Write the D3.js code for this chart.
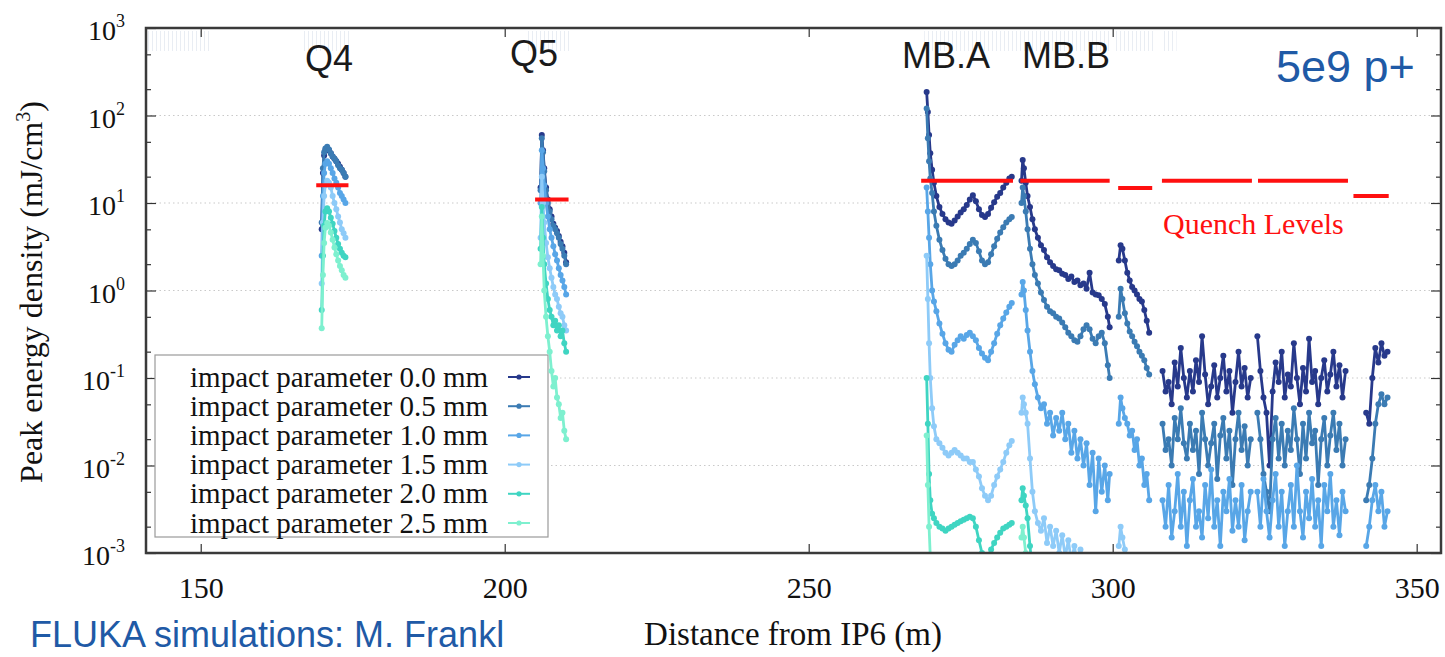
<!DOCTYPE html>
<html>
<head>
<meta charset="utf-8">
<script src="https://cdn.jsdelivr.net/npm/d3@7"></script>
<style>
  body { margin: 0; background: #fff; }
  svg { display: block; }
</style>
</head>
<body>
<svg id="chart" width="1445" height="657"></svg>
<script>
// ---- data (peak energy density in mJ/cm3 vs distance from IP6 in m) ----
const seriesLabels = [
  "impact parameter 0.0 mm", "impact parameter 0.5 mm", "impact parameter 1.0 mm",
  "impact parameter 1.5 mm", "impact parameter 2.0 mm", "impact parameter 2.5 mm"
];
const xTickValues = [150, 200, 250, 300, 350];
const yDecades = [-3, -2, -1, 0, 1, 2, 3];

// Q4
const q4X = [169.9, 170.1, 170.3, 170.5, 170.8, 171.1, 171.4, 171.7, 172.0, 172.3, 172.6, 172.9, 173.2, 173.5, 173.8];
const q4Y = [
  [5, 22, 35, 40, 41, 40, 37, 34, 32, 30, 28, 26, 24, 22, 20],
  [6, 25, 38, 42, 44, 41, 37, 34, 32, 30, 27, 25, 24, 22, 20],
  [2.5, 12, 22, 28, 30, 28, 25, 22, 19, 17, 15, 13, 12, 11, 10],
  [1.2, 6, 12, 16, 18, 17, 15, 12, 10, 8.5, 7, 6, 5, 4.5, 4],
  [0.6, 2.5, 5.5, 8, 8.7, 8, 6.8, 5.8, 4.8, 4, 3.4, 3, 2.7, 2.5, 2.4],
  [0.37, 1.5, 3.5, 5.2, 5.9, 5.5, 4.6, 3.8, 3.1, 2.6, 2.2, 1.9, 1.7, 1.5, 1.4]
];

// Q5
const q5X = [205.9, 206.1, 206.3, 206.5, 206.8, 207.1, 207.4, 207.7, 208.0, 208.3, 208.6, 208.9, 209.2, 209.5, 209.8, 210.1];
const q5Y = [
  [15, 60, 40, 25, 15, 11, 8.5, 7, 5.8, 5.2, 4.8, 4.2, 3.6, 3.2, 2.7, 2.1],
  [14, 55, 38, 23, 14, 10, 8, 6.5, 5.5, 5.0, 4.5, 4.0, 3.4, 3.0, 2.5, 2.0],
  [10, 40, 25, 16, 10, 7, 5, 4, 3.2, 2.6, 2.2, 1.8, 1.5, 1.3, 1.1, 0.9],
  [4, 20, 10, 6, 3.5, 2.4, 1.8, 1.4, 1.1, 0.9, 0.8, 0.65, 0.55, 0.5, 0.4, 0.35],
  [3, 9, 4, 2, 1.2, 0.8, 0.6, 0.5, 0.4, 0.45, 0.35, 0.4, 0.3, 0.35, 0.25, 0.2],
  [2, 7, 2.5, 1, 0.5, 0.3, 0.2, 0.12, 0.08, 0.1, 0.06, 0.05, 0.035, 0.04, 0.025, 0.02]
];

// MB.A
const mbaX = [269.4, 269.6, 269.8, 270.0, 270.3, 270.6, 271.0, 271.5, 272.0, 272.5, 273.0, 273.5, 274.0, 274.5, 275.0, 275.5,
  276.0, 276.5, 277.0, 277.5, 278.0, 278.5, 279.0, 279.5, 280.0, 280.5, 281.0, 281.5, 282.0, 282.5, 283.0, 283.4];
const mbaY = [
  [186, 110, 60, 37, 24, 17, 12, 9, 7.5, 6.5, 6.0, 5.8, 6.3, 7.0, 7.8, 8.5, 9.5, 11, 12.3, 10.5, 8.5, 7.3, 6.9, 7.5, 8.8, 10.2, 11.8, 13, 15, 17, 19, 20],
  [120, 55, 30, 19, 13, 8, 5.5, 3.8, 2.9, 2.3, 2.0, 1.9, 2.0, 2.2, 2.5, 2.7, 3.0, 3.4, 3.8, 3.5, 2.8, 2.2, 2.0, 2.1, 2.6, 3.2, 3.9, 4.6, 5.3, 6.0, 6.5, 6.9],
  [15, 8, 4, 2, 1.0, 0.75, 0.58, 0.42, 0.32, 0.25, 0.21, 0.2, 0.24, 0.27, 0.3, 0.28, 0.31, 0.33, 0.3, 0.27, 0.22, 0.19, 0.17, 0.16, 0.2, 0.25, 0.32, 0.4, 0.48, 0.56, 0.65, 0.72],
  [2.5, 0.8, 0.25, 0.1, 0.045, 0.028, 0.02, 0.018, 0.016, 0.014, 0.013, 0.014, 0.015, 0.014, 0.013, 0.012, 0.012, 0.011, 0.011, 0.009, 0.0075, 0.0055, 0.0045, 0.004, 0.0045, 0.006, 0.0075, 0.009, 0.011, 0.014, 0.017, 0.019],
  [0.1, 0.03, 0.008, 0.004, 0.0028, 0.0025, 0.0022, 0.002, 0.0019, 0.0018, 0.0019, 0.002, 0.0021, 0.0022, 0.0023, 0.0024, 0.0025, 0.0026, 0.0025, 0.002, 0.0014, 0.001, 0.0008, 0.0009, 0.0011, 0.0013, 0.0015, 0.0017, 0.0019, 0.002, 0.0021, 0.0022],
  [0.022, 0.006, 0.002, 0.0009, 0.0005]
];

// MB.B
const mbbX = [285.0, 285.2, 285.4, 285.7, 286.0, 286.4, 286.8, 287.2, 287.7, 288.2, 288.7, 289.2, 289.7, 290.2, 290.7, 291.2,
  291.7, 292.2, 292.7, 293.2, 293.7, 294.2, 294.7, 295.2, 295.7, 296.2, 296.7, 297.2, 297.7, 298.2, 298.7, 299.2, 299.5];
const mbbY = [
  [18, 31, 25, 17, 12, 9, 6.5, 5, 4, 3.3, 2.9, 2.4, 2.1, 1.9, 1.75, 1.7, 1.55, 1.5, 1.35, 1.45, 1.25, 1.3, 1.15, 1.2, 1.05, 1.6, 0.95, 0.9, 0.88, 0.8, 0.7, 0.5, 0.38],
  [10, 15, 12, 8, 5, 3, 2, 1.5, 1.2, 0.95, 0.78, 0.65, 0.58, 0.55, 0.5, 0.48, 0.43, 0.38, 0.33, 0.3, 0.27, 0.26, 0.3, 0.36, 0.4, 0.36, 0.28, 0.25, 0.3, 0.33, 0.25, 0.14, 0.1],
  [0.9, 1.25, 1.0, 0.6, 0.35, 0.2, 0.12, 0.085, 0.06, 0.045, 0.05, 0.03, 0.04, 0.022, 0.035, 0.025, 0.04, 0.02, 0.03, 0.014, 0.025, 0.012, 0.02, 0.01, 0.018, 0.006, 0.014, 0.003, 0.012, 0.005, 0.01, 0.004, 0.008],
  [0.04, 0.06, 0.05, 0.04, 0.03, 0.012, 0.005, 0.003, 0.0022, 0.0018, 0.0025, 0.0013, 0.002, 0.0012, 0.0018, 0.001, 0.0016, 0.0009, 0.0014, 0.0008, 0.0012, 0.0007, 0.0011, 0.0006],
  [0.004, 0.0055, 0.0045, 0.0035, 0.0025, 0.0012, 0.0006],
  [0.0015, 0.002, 0.0015, 0.001, 0.0007]
];

// short element after MB.B
const shortX = [301.0, 301.3, 301.6, 302.0, 302.4, 302.8, 303.2, 303.6, 304.0, 304.4, 304.8, 305.2, 305.6, 306.0];
const shortY = [
  [2.2, 3.3, 3.0, 2.2, 1.6, 1.3, 1.1, 1.0, 0.9, 0.8, 0.75, 0.6, 0.45, 0.33],
  [0.5, 1.05, 0.8, 0.55, 0.42, 0.34, 0.3, 0.26, 0.23, 0.2, 0.18, 0.16, 0.13, 0.11],
  [0.03, 0.06, 0.045, 0.035, 0.03, 0.022, 0.025, 0.015, 0.02, 0.01, 0.012, 0.006, 0.008, 0.004],
  [0.0012, 0.002, 0.0015, 0.0011, 0.0008],
  [],
  []
];

// long elements
const longAX = [308.2, 308.7, 309.2, 309.7, 310.2, 310.7, 311.2, 311.7, 312.2, 312.7, 313.2, 313.7, 314.2, 314.7, 315.2,
  315.7, 316.2, 316.7, 317.2, 317.7, 318.2, 318.7, 319.2, 319.7, 320.2, 320.7, 321.2, 321.7, 322.2, 322.7];
const longAY = [
  [0.12, 0.07, 0.09, 0.05, 0.15, 0.08, 0.22, 0.1, 0.06, 0.12, 0.07, 0.16, 0.09, 0.3, 0.11, 0.05, 0.08, 0.14, 0.06, 0.1, 0.18, 0.07, 0.12, 0.04, 0.09, 0.2, 0.08, 0.13, 0.06, 0.1],
  [0.03, 0.015, 0.02, 0.01, 0.035, 0.02, 0.045, 0.018, 0.012, 0.03, 0.015, 0.025, 0.008, 0.04, 0.02, 0.01, 0.018, 0.03, 0.007, 0.022, 0.035, 0.012, 0.025, 0.006, 0.02, 0.04, 0.015, 0.028, 0.01, 0.02],
  [0.004, 0.002, 0.006, 0.0015, 0.003, 0.008, 0.002, 0.005, 0.0012, 0.004, 0.007, 0.002, 0.003, 0.0015, 0.006, 0.0025, 0.009, 0.002, 0.004, 0.0012, 0.005, 0.003, 0.007, 0.0018, 0.004, 0.002, 0.006, 0.0014, 0.003, 0.005],
  [], [], []
];
const longBX = [323.8, 324.3, 324.8, 325.3, 325.8, 326.3, 326.8, 327.3, 327.8, 328.3, 328.8, 329.3, 329.8, 330.3, 330.8,
  331.3, 331.8, 332.3, 332.8, 333.3, 333.8, 334.3, 334.8, 335.3, 335.8, 336.3, 336.8, 337.3, 337.8, 338.3];
const longBY = [
  [0.3, 0.12, 0.06, 0.04, 0.01, 0.07, 0.15, 0.09, 0.2, 0.06, 0.11, 0.08, 0.25, 0.1, 0.05, 0.13, 0.07, 0.28, 0.09, 0.12, 0.05, 0.1, 0.16, 0.07, 0.11, 0.2, 0.08, 0.14, 0.06, 0.12],
  [0.04, 0.02, 0.008, 0.005, 0.003, 0.02, 0.035, 0.012, 0.03, 0.01, 0.025, 0.015, 0.045, 0.02, 0.008, 0.03, 0.012, 0.04, 0.018, 0.025, 0.006, 0.02, 0.035, 0.01, 0.022, 0.04, 0.015, 0.03, 0.01, 0.02],
  [0.005, 0.002, 0.007, 0.003, 0.0015, 0.004, 0.008, 0.002, 0.005, 0.0012, 0.003, 0.006, 0.002, 0.01, 0.003, 0.0015, 0.005, 0.0025, 0.007, 0.002, 0.004, 0.0012, 0.006, 0.003, 0.008, 0.002, 0.004, 0.0016, 0.005, 0.003],
  [], [], []
];
const lastX = [341.7, 342.2, 342.7, 343.2, 343.7, 344.2, 344.7, 345.2];
const lastY = [
  [0.04, 0.03, 0.1, 0.22, 0.15, 0.25, 0.18, 0.2],
  [0.004, 0.006, 0.012, 0.03, 0.05, 0.065, 0.05, 0.06],
  [0.0012, 0.002, 0.004, 0.006, 0.003, 0.005, 0.002, 0.003],
  [], [], []
];

// quench levels per element
const quenchStart = [169.0, 205.0, 268.5, 284.8, 300.9, 308.1, 323.9, 339.6];
const quenchEnd   = [174.3, 210.5, 283.6, 299.5, 306.5, 322.9, 338.7, 345.4];
const quenchValue = [16, 11, 18, 18, 14.8, 18, 18, 12];

// faint marks under the top border (element outlines)
const topMarkStart = [141.2, 166.5, 203.5, 269.0, 300.5, 308.0];
const topMarkEnd   = [151.6, 174.5, 211.0, 299.8, 307.0, 310.5];

// ---- drawing ----
const colors = ["#27398b", "#3b7bb3", "#58a6e7", "#8ecbf8", "#3fd5c2", "#7ef0cf"];
const svg = d3.select("#chart");
const plotL = 146, plotR = 1441, plotT = 28, plotB = 553;

const x = d3.scaleLinear().domain([141, 354]).range([plotL, plotR]);
const y = d3.scaleLog().domain([1e-3, 1e3]).range([plotB, plotT]);

const serif = "'Liberation Serif', 'Times New Roman', serif";
const sans = "'Liberation Sans', Arial, sans-serif";

const defs = svg.append("defs");
defs.append("clipPath").attr("id", "plotclip")
  .append("rect").attr("x", plotL).attr("y", plotT).attr("width", plotR - plotL).attr("height", plotB - plotT);
const pat = defs.append("pattern").attr("id", "stripes")
  .attr("patternUnits", "userSpaceOnUse").attr("width", 4).attr("height", 10);
pat.append("rect").attr("width", 1).attr("height", 10).attr("fill", "#e9edf3");

// top marks
svg.append("g").selectAll("rect").data(topMarkStart).join("rect")
  .attr("x", (d) => x(d))
  .attr("y", plotT + 3)
  .attr("width", (d, i) => x(topMarkEnd[i]) - x(d))
  .attr("height", 20)
  .attr("fill", "url(#stripes)");

// grid
svg.append("g").selectAll("line").data(yDecades.slice(1, -1)).join("line")
  .attr("x1", plotL).attr("x2", plotR)
  .attr("y1", (d) => y(Math.pow(10, d))).attr("y2", (d) => y(Math.pow(10, d)))
  .attr("stroke", "#c9c9c9").attr("stroke-width", 1).attr("stroke-dasharray", "1.5,3");

// axes (ticks inward, on all four sides)
const majors = yDecades.map((d) => Math.pow(10, d));
const minors = [];
yDecades.slice(0, -1).forEach((d) => { minors.push(2 * Math.pow(10, d), 5 * Math.pow(10, d)); });

function styleAxis(g) {
  g.select(".domain").remove();
  g.selectAll(".tick line").attr("stroke", "#333").attr("stroke-width", 1.2);
}
svg.append("g").attr("transform", `translate(0,${plotB})`)
  .call(d3.axisBottom(x).tickValues(xTickValues).tickSize(-9).tickPadding(24).tickFormat(d3.format("d")))
  .call(styleAxis)
  .call((g) => g.selectAll("text").attr("font-family", serif).attr("font-size", 30).attr("fill", "#111"));
svg.append("g").attr("transform", `translate(0,${plotT})`)
  .call(d3.axisTop(x).tickValues(xTickValues).tickSize(-9).tickFormat(""))
  .call(styleAxis);
svg.append("g").attr("transform", `translate(${plotL},0)`)
  .call(d3.axisLeft(y).tickValues(majors).tickSize(-10).tickFormat(""))
  .call(styleAxis);
svg.append("g").attr("transform", `translate(${plotL},0)`)
  .call(d3.axisLeft(y).tickValues(minors).tickSize(-5).tickFormat(""))
  .call(styleAxis);
svg.append("g").attr("transform", `translate(${plotR},0)`)
  .call(d3.axisRight(y).tickValues(majors).tickSize(-10).tickFormat(""))
  .call(styleAxis);
svg.append("g").attr("transform", `translate(${plotR},0)`)
  .call(d3.axisRight(y).tickValues(minors).tickSize(-5).tickFormat(""))
  .call(styleAxis);

// y tick labels 10^n
const yl = svg.append("g").selectAll("text").data(yDecades).join("text")
  .attr("x", 125).attr("y", (d) => y(Math.pow(10, d)) + 12)
  .attr("text-anchor", "end").attr("font-family", serif).attr("fill", "#111");
yl.append("tspan").attr("font-size", 28).text("10");
yl.append("tspan").attr("font-size", 18).attr("dy", -13).text((d) => d);

// legend
const legend = svg.append("g");
legend.append("rect").attr("x", 155).attr("y", 355).attr("width", 393).attr("height", 182)
  .attr("fill", "#fff").attr("stroke", "#9a9a9a").attr("stroke-width", 1.2);
seriesLabels.forEach((lab, i) => {
  const cy = 377 + i * 29.2;
  legend.append("text").attr("x", 488).attr("y", cy + 9.5).attr("text-anchor", "end")
    .attr("font-family", serif).attr("font-size", 29).attr("fill", "#111").text(lab);
  legend.append("line").attr("x1", 508).attr("x2", 530).attr("y1", cy).attr("y2", cy)
    .attr("stroke", colors[i]).attr("stroke-width", 2);
  legend.append("circle").attr("cx", 519).attr("cy", cy).attr("r", 2.6).attr("fill", colors[i]);
});

// data
const segments = [[q4X, q4Y], [q5X, q5Y], [mbaX, mbaY], [mbbX, mbbY], [shortX, shortY],
  [longAX, longAY], [longBX, longBY], [lastX, lastY]];
const line = d3.line().x((d) => x(d[0])).y((d) => y(d[1]));
const plot = svg.append("g").attr("clip-path", "url(#plotclip)");

seriesLabels.forEach((lab, s) => {
  const g = plot.append("g");
  segments.forEach(([xs, ys]) => {
    const pts = (ys[s] || []).map((v, i) => [xs[i], v]);
    if (pts.length === 0) return;
    g.append("path").datum(pts).attr("d", line)
      .attr("fill", "none").attr("stroke", colors[s]).attr("stroke-width", 2.8)
      .attr("stroke-linejoin", "round");
    g.selectAll(null).data(pts).join("circle")
      .attr("cx", (d) => x(d[0])).attr("cy", (d) => y(d[1])).attr("r", 3)
      .attr("fill", colors[s]);
  });
});

// quench levels
svg.append("g").selectAll("line").data(quenchValue).join("line")
  .attr("x1", (d, i) => x(quenchStart[i])).attr("x2", (d, i) => x(quenchEnd[i]))
  .attr("y1", (d) => y(d)).attr("y2", (d) => y(d))
  .attr("stroke", "#ff1010").attr("stroke-width", 4);
svg.append("text").attr("x", 1163).attr("y", 234).attr("font-family", serif).attr("font-size", 30)
  .attr("fill", "#ff1010").text("Quench Levels");

// frame
svg.append("rect").attr("x", plotL).attr("y", plotT).attr("width", plotR - plotL).attr("height", plotB - plotT)
  .attr("fill", "none").attr("stroke", "#3a3a3a").attr("stroke-width", 2.5);

// axis titles
svg.append("text").attr("x", 793).attr("y", 645).attr("text-anchor", "middle")
  .attr("font-family", serif).attr("font-size", 33).attr("fill", "#111").text("Distance from IP6 (m)");
const yt = svg.append("text").attr("transform", "translate(42,292) rotate(-90)").attr("text-anchor", "middle")
  .attr("font-family", serif).attr("font-size", 32).attr("fill", "#111");
yt.append("tspan").text("Peak energy density (mJ/cm");
yt.append("tspan").attr("font-size", 20).attr("dy", -12).text("3");
yt.append("tspan").attr("dy", 12).text(")");

// element labels and notes
const magnetNames = ["Q4", "Q5", "MB.A", "MB.B"];
const magnetLabelX = [305, 510, 902, 1022];
const magnetLabelY = [71, 66, 68, 68];
svg.append("g").selectAll("text").data(magnetNames).join("text")
  .attr("x", (d, i) => magnetLabelX[i]).attr("y", (d, i) => magnetLabelY[i])
  .attr("font-family", sans).attr("font-size", 36).attr("fill", "#1a1a1a").text((d) => d);

svg.append("text").attr("x", 1276).attr("y", 82).attr("font-family", sans).attr("font-size", 45)
  .attr("fill", "#1f5aa6").text("5e9 p+");
svg.append("text").attr("x", 30).attr("y", 647).attr("font-family", sans).attr("font-size", 36)
  .attr("fill", "#1f5aa6").text("FLUKA simulations: M. Frankl");
</script>
</body>
</html>
